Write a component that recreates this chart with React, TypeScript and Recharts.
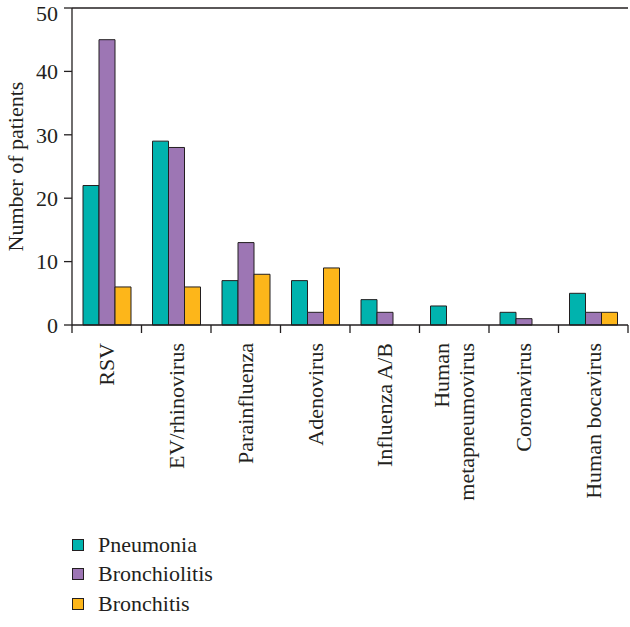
import { Bar, BarChart, XAxis, YAxis, Legend, ReferenceLine } from "recharts"

const viruses = [
  "RSV",
  "EV/rhinovirus",
  "Parainfluenza",
  "Adenovirus",
  "Influenza A/B",
  "Human metapneumovirus",
  "Coronavirus",
  "Human bocavirus",
]
const pneumonia = [22, 29, 7, 7, 4, 3, 2, 5]
const bronchiolitis = [45, 28, 13, 2, 2, 0, 1, 2]
const bronchitis = [6, 6, 8, 9, 0, 0, 0, 2]
const yTicks = [0, 10, 20, 30, 40, 50]

const series = [
  { key: "Pneumonia", color: "#00b3ae" },
  { key: "Bronchiolitis", color: "#9d76b4" },
  { key: "Bronchitis", color: "#fdb61a" },
]

const data = viruses.map((v, i) => ({
  virus: v,
  Pneumonia: pneumonia[i],
  Bronchiolitis: bronchiolitis[i],
  Bronchitis: bronchitis[i],
}))

const ink = "#231f20"
const font = "'Liberation Serif', serif"
const fs = 22

function CategoryTick(props: any) {
  const { x, y, payload, index, visibleTicksCount, width } = props
  const bw = width / visibleTicksCount
  const axisY = y - 18
  const lines = payload.value === "Human metapneumovirus" ? ["Human", "metapneumovirus"] : [payload.value]
  return (
    <g>
      <line x1={x - bw / 2} x2={x - bw / 2} y1={axisY} y2={axisY + 8} stroke={ink} strokeWidth={1.3} />
      {index === visibleTicksCount - 1 && (
        <line x1={x + bw / 2} x2={x + bw / 2} y1={axisY} y2={axisY + 8} stroke={ink} strokeWidth={1.3} />
      )}
      <text transform={`rotate(-90, ${x}, ${y})`} x={x} y={y} textAnchor="end" fill={ink} fontSize={fs} fontFamily={font}>
        {lines.length === 1 ? (
          <tspan x={x} dy="0.33em">{lines[0]}</tspan>
        ) : (
          <>
            <tspan x={x} dy="-0.25em">{lines[0]}</tspan>
            <tspan x={x} dy="1.14em">{lines[1]}</tspan>
          </>
        )}
      </text>
    </g>
  )
}

function LegendBox() {
  return (
    <div style={{ fontFamily: font, fontSize: fs, color: ink }}>
      {series.map((s) => (
        <div key={s.key} style={{ display: "flex", alignItems: "center", height: 29.5 }}>
          <span style={{ display: "inline-block", width: 10, height: 10, background: s.color, border: `1px solid ${ink}`, marginRight: 14 }} />
          <span>{s.key}</span>
        </div>
      ))}
    </div>
  )
}

export default function App() {
  return (
    <div style={{ position: "absolute", left: 0, top: 0, width: 630, height: 627, background: "#fff", fontFamily: font }}>
      <BarChart width={630} height={627} data={data} margin={{ top: 8, right: 2, left: 0, bottom: 0 }} barGap={0} barSize={16}>
        <XAxis
          dataKey="virus"
          height={302}
          interval={0}
          tickLine={false}
          tickSize={8}
          tickMargin={10}
          axisLine={{ stroke: ink, strokeWidth: 1.3 }}
          tick={<CategoryTick />}
        />
        <YAxis
          domain={[0, 50]}
          ticks={yTicks}
          width={72}
          tickSize={8}
          tickMargin={6}
          axisLine={{ stroke: ink, strokeWidth: 1.3 }}
          tickLine={{ stroke: ink, strokeWidth: 1.3 }}
          tick={{ fill: ink, fontSize: fs, fontFamily: font }}
          label={{ value: "Number of patients", angle: -90, position: "insideLeft", offset: 15, fill: ink, fontSize: fs, fontFamily: font, style: { textAnchor: "middle" } }}
        />
        <YAxis yAxisId="frame" orientation="right" domain={[0, 50]} width={0} tick={false} tickLine={false} axisLine={{ stroke: ink, strokeWidth: 1.3 }} />
        <ReferenceLine y={50} stroke={ink} strokeWidth={1.3} />
        {series.map((s) => (
          <Bar key={s.key} dataKey={s.key} fill={s.color} stroke={ink} strokeWidth={1} isAnimationActive={false} />
        ))}
        <Legend
          layout="vertical"
          align="center"
          verticalAlign="middle"
          content={<LegendBox />}
          wrapperStyle={{ left: 72, top: 530, width: 220 }}
        />
      </BarChart>
    </div>
  )
}
